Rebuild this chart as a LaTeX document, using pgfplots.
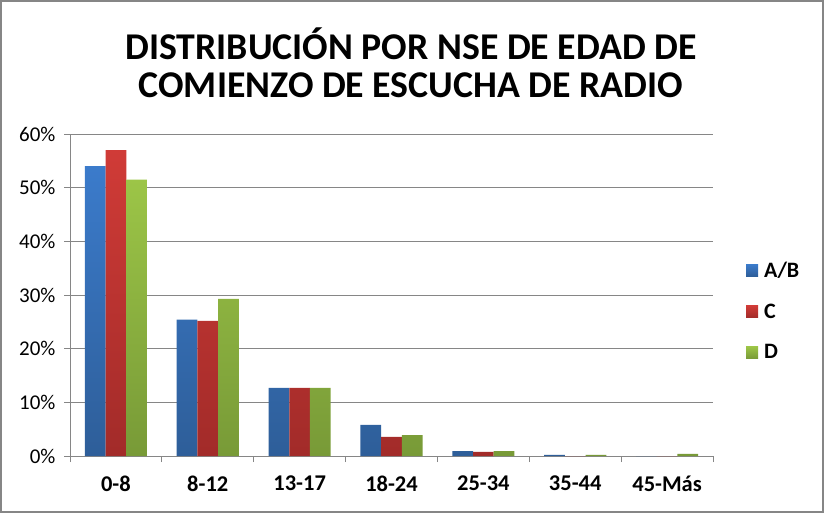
\documentclass[border=0pt]{standalone}
\usepackage{pgfplots}
\pgfplotsset{compat=1.18}
\usepackage{fontspec}
\setmainfont{Carlito}
\definecolor{bAB}{HTML}{3B7BCB}
\definecolor{bABd}{HTML}{2E5E99}
\definecolor{bC}{HTML}{D03B37}
\definecolor{bCd}{HTML}{A22B29}
\definecolor{bD}{HTML}{9CC547}
\definecolor{bDd}{HTML}{789A37}
\definecolor{gridc}{HTML}{868686}
\begin{document}
\begin{tikzpicture}[x=1pt,y=1pt]
\useasboundingbox (0,0) rectangle (824,-513);
\draw[color=gridc, line width=2pt] (1,-1) rectangle (823,-512);
\node[font=\bfseries\fontsize{37.8}{42}\selectfont] at (411,-44) {DISTRIBUCIÓN POR NSE DE EDAD DE};
\node[font=\bfseries\fontsize{37.8}{42}\selectfont] at (411,-85) {COMIENZO DE ESCUCHA DE RADIO};
\begin{axis}[
  at={(70pt,-456pt)}, anchor=south west,
  scale only axis, width=643pt, height=322pt,
  xmin=-0.5, xmax=6.5, ymin=0, ymax=60,
  ybar=0pt, bar width=20.7pt,
  axis lines=left, axis line style={color=gridc, -},
  xtick={-0.5,0.5,...,6.5}, x tick label as interval,
  xticklabels={0-8,8-12,13-17,18-24,25-34,35-44,45-Más},
  xticklabel style={font=\bfseries\fontsize{22.5}{26}\selectfont, yshift=-10pt},
  ytick={0,10,...,60},
  yticklabels={0\%,10\%,20\%,30\%,40\%,50\%,60\%},
  yticklabel style={font=\fontsize{21}{25}\selectfont, xshift=-5pt},
  tick align=outside, major tick length=6pt,
  tick style={color=gridc, line width=0.8pt},
  ymajorgrids, grid style={color=gridc, line width=0.8pt},
  legend style={at={(1,0.45)}, anchor=west, xshift=30pt, draw=none, fill=none,
    font=\bfseries\fontsize{22}{26}\selectfont, row sep=21pt},
  legend cell align=left,
  legend image code/.code={\fill[#1] (0pt,-6pt) rectangle (12pt,6pt); \path (0pt,0pt) -- (16pt,0pt);},
]
\addplot[draw=none, top color=bAB, bottom color=bABd] coordinates {(0,54.0) (1,25.4) (2,12.7) (3,5.8) (4,0.93) (5,0.2) (6,0)};
\addplot[draw=none, top color=bC, bottom color=bCd] coordinates {(0,57.0) (1,25.2) (2,12.7) (3,3.55) (4,0.75) (5,0) (6,0)};
\addplot[draw=none, top color=bD, bottom color=bDd] coordinates {(0,51.5) (1,29.3) (2,12.7) (3,3.9) (4,0.93) (5,0.2) (6,0.4)};
\legend{A/B,C,D}
\end{axis}
\end{tikzpicture}
\end{document}
